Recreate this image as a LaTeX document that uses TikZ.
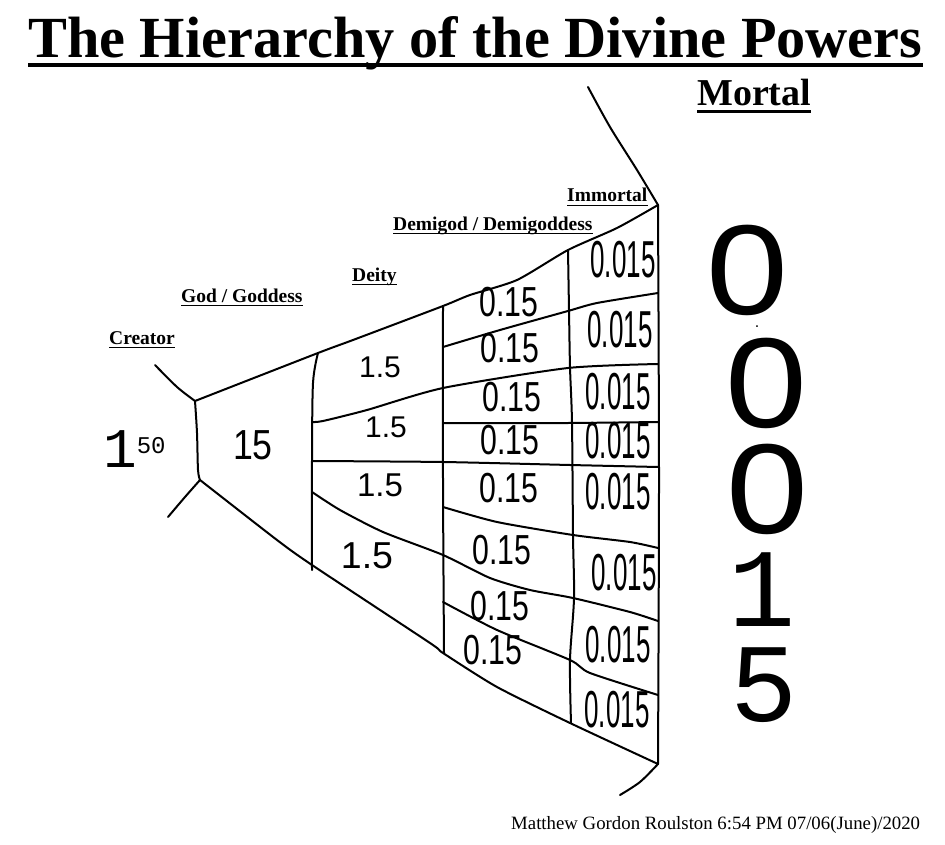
\documentclass[tikz,border=0pt]{standalone}
\usepackage{graphicx}
\usepackage{fontspec}
\setmainfont{Liberation Serif}
\newfontfamily\handfont{Liberation Sans}
\newfontfamily\penfont{Liberation Mono}
\usetikzlibrary{positioning}

\tikzset{
  pen/.style={line width=2pt, line cap=round, line join=round},
  rank/.style={font=\bfseries\fontsize{19.5}{20}\selectfont, inner sep=0pt, anchor=base west},
  godnum/.style={font=\handfont\fontsize{42}{42}\selectfont, xscale=0.85, inner sep=0pt},
  deitynum/.style={font=\handfont\fontsize{30}{30}\selectfont, inner sep=0pt},
  deminum/.style={font=\handfont\fontsize{42}{42}\selectfont, xscale=0.72, inner sep=0pt},
  immnum/.style={font=\handfont\fontsize{52}{52}\selectfont, xscale=0.5, inner sep=0pt},
  zeronum/.style={font=\handfont\fontsize{128}{128}\selectfont, xscale=1.15, inner sep=0pt},
  bignum/.style={font=\penfont\fontsize{112}{112}\selectfont, inner sep=0pt},
}

\begin{document}
\begin{tikzpicture}[x=1pt, y=-1pt]
    \useasboundingbox (0,0) rectangle (945,845);

    % Headings
    \node[anchor=base west, inner sep=0pt] (title) at (28,58)
        {\resizebox{894pt}{41pt}{\bfseries The Hierarchy of the Divine Powers}};
    \node[anchor=base west, inner sep=0pt, font=\bfseries\fontsize{38}{38}\selectfont] (mortal) at (697,106) {Mortal};
    \draw[line width=4pt] ([yshift=-7pt]title.base west) -- ([yshift=-7pt]title.base east);
    \draw[line width=3pt] ([yshift=-5.5pt]mortal.base west) -- ([yshift=-5.5pt]mortal.base east);

    % Ranks
    \node[rank] (creator) at (109,344) {Creator};
    \node[rank] (god) at (181,302) {God / Goddess};
    \node[rank] (deity) at (352,281) {Deity};
    \node[rank] (demigod) at (393,230) {Demigod / Demigoddess};
    \node[rank] (immortal) at (567,202) {Immortal};
    \foreach \n in {creator,god,deity,demigod,immortal}
        \draw[line width=1.8pt] ([yshift=-3.5pt]\n.base west) -- ([yshift=-3.5pt]\n.base east);

    % Creator and outer edges
    \draw[pen] plot[smooth] coordinates {(155,365) (177,387) (195,401)};
    \draw[pen] plot[smooth] coordinates {(195,401) (197,433) (198,470) (200,480)};
    \draw[pen] plot[smooth] coordinates {(200,480) (185,497) (168,517)};
    \draw[pen] plot[smooth, tension=0.4] coordinates {(195,401) (318,353) (353,340) (443,306) (470,295) (517,280) (568,250) (617,228) (658,205)};
    \draw[pen] plot[smooth, tension=0.4] coordinates {(200,480) (277,540) (312,565) (430,643) (443,653) (497,687) (570,723) (658,764)};
    \draw[pen] plot[smooth] coordinates {(588,87) (610,127) (637,170) (658,205)};
    \draw[pen] plot[smooth] coordinates {(658,764) (640,782) (620,795)};

    % Columns
    \draw[pen] plot[smooth] coordinates {(318,353) (313,383) (312,460) (312,570)};
    \draw[pen] plot[smooth] coordinates {(443,306) (443,480) (444,653)};
    \draw[pen] plot[smooth] coordinates {(568,250) (569,310) (570,367) (572,423) (573,535) (574,598) (570,660) (571,723)};
    \draw[pen] plot[smooth] coordinates {(658,205) (659,480) (658,764)};

    % Rows
    \draw[pen] plot[smooth, tension=0.4] coordinates {(312,422) (323,421) (367,410) (443,388) (568,368) (658,364)};
    \draw[pen] plot[smooth, tension=0.4] coordinates {(443,347) (500,330) (568,311) (597,303) (658,293)};
    \draw[pen] plot[smooth, tension=0.4] coordinates {(443,423) (568,423) (658,422)};
    \draw[pen] plot[smooth, tension=0.4] coordinates {(312,461) (443,462) (570,465) (658,467)};
    \draw[pen] plot[smooth, tension=0.4] coordinates {(443,507) (497,522) (573,535) (630,542) (658,548)};
    \draw[pen] plot[smooth, tension=0.4] coordinates {(312,492) (340,510) (383,532) (443,555) (490,578) (530,590) (573,598) (630,612) (658,621)};
    \draw[pen] plot[smooth, tension=0.4] coordinates {(443,602) (497,630) (570,660) (590,673) (658,695)};

    % Values
    \node[anchor=base west, inner sep=0pt, font=\penfont\fontsize{56}{56}\selectfont] (creatornum) at (103,467)
        {1\raisebox{14pt}{\fontsize{24}{24}\selectfont 50}};
    \node[godnum] (godnum) at (253,445) {15};
    \node[deitynum] (deity1) at (380,367) {1.5};
    \node[deitynum] (deity2) at (386,427) {1.5};
    \node[deitynum, scale=1.1] (deity3) at (380,485) {1.5};
    \node[deitynum, scale=1.25] (deity4) at (367,556) {1.5};
    \foreach \pos [count=\i] in {(509,302),(510,348),(512,397),(510,440),(509,488),(502,550),(500,606),(493,650)}
        \node[deminum] (demi\i) at \pos {0.15};
    \foreach \pos [count=\i] in {(623,260),(620,330),(618,392),(618,441),(618,492),(624,573),(618,645),(617,710)}
        \node[immnum] (imm\i) at \pos {0.015};

    % Mortal value
    \node[zeronum] (zeroA) at (747,270) {0};
    \node[inner sep=0pt, font=\handfont\fontsize{16}{16}\selectfont] (point) at (757,327) {.};
    \node[zeronum] (zeroB) at (766,383) {0};
    \node[zeronum] (zeroC) at (767,489) {0};
    \node[bignum] (one) at (762,590) {1};
    \node[bignum] (five) at (764,685) {5};

    \node[anchor=base west, inner sep=0pt, font=\fontsize{18.8}{20}\selectfont] (sign) at (511,829)
        {Matthew Gordon Roulston 6:54 PM 07/06(June)/2020};
\end{tikzpicture}
\end{document}
